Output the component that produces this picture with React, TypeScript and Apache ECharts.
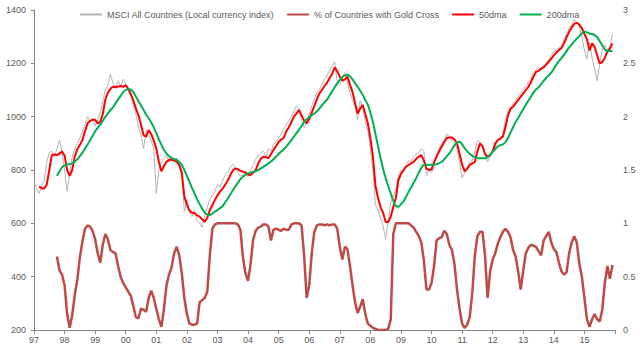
import React, { useEffect, useRef } from "react";
import * as echarts from "echarts";

// Monthly observations; x position = 1997 + monthIndex / 12
const START_YEAR = 1997;
const msciStartMonth = 0;
const dma50StartMonth = 2;
const dma200StartMonth = 9;
const goldCrossStartMonth = 9;

const yearTicks = ["97","98","99","00","01","02","03","04","05","06","07","08","09","10","11","12","13","14","15"];

const msciIndex = [
  755,730,712,740,760,830,865,870,848,880,912,865,800,720,790,850,880,900,920,945,
  970,1000,985,995,965,990,1010,1060,1100,1120,1160,1125,1110,1135,1115,1140,1120,1105,1075,1045,
  1010,960,930,880,950,930,910,880,712,800,830,845,855,830,850,835,845,810,780,645,
  690,640,625,650,610,600,585,630,660,690,705,720,745,735,760,780,790,810,822,810,
  790,778,780,795,775,800,820,840,855,865,870,850,880,870,895,905,920,935,955,970,
  985,1000,1020,1040,1030,985,960,975,1010,1040,1065,1090,1100,1120,1140,1155,1175,1190,1205,1130,
  1120,1150,1165,1130,1090,1060,1040,990,1060,1040,980,950,880,800,670,650,620,590,540,610,
  680,700,730,780,800,790,820,835,830,850,860,865,880,870,780,800,790,810,860,880,
  900,915,935,925,910,900,880,830,770,790,800,830,835,870,910,905,880,860,830,850,
  870,885,910,920,930,990,1020,1030,1050,1060,1075,1090,1100,1115,1130,1140,1165,1175,1185,1175,
  1195,1200,1215,1230,1245,1250,1260,1270,1290,1310,1330,1345,1365,1350,1340,1300,1250,1215,1280,1220,
  1180,1135,1200,1250,1270,1250,1265,1310
];

const dma50 = [
  738,732,731,745,800,856,858,856,862,869,855,800,778,800,850,878,895,912,945,975,
  984,988,988,975,980,1010,1065,1090,1105,1112,1110,1113,1115,1112,1118,1104,1085,1060,1030,1005,
  970,930,925,950,935,910,880,830,795,815,831,838,838,835,831,820,790,700,670,648,
  640,638,630,625,615,606,620,650,668,688,705,719,730,745,760,780,798,806,803,796,
  794,790,783,781,790,800,825,842,850,848,844,860,875,890,905,914,920,945,960,980,
  1000,1012,1025,1005,985,975,990,1015,1040,1065,1087,1100,1115,1127,1145,1160,1185,1170,1150,1135,
  1140,1150,1120,1092,1050,1012,1030,1044,1010,975,920,850,740,695,660,640,605,605,625,662,
  695,762,785,800,812,819,825,831,842,850,856,835,805,800,802,830,850,870,888,905,
  920,922,922,915,900,860,820,795,805,819,825,831,870,900,890,860,850,856,870,900,
  912,918,925,960,1005,1030,1037,1050,1062,1075,1087,1100,1112,1130,1150,1168,1172,1180,1185,1195,
  1206,1218,1230,1240,1250,1258,1275,1298,1318,1335,1348,1352,1345,1332,1310,1290,1248,1275,1262,1230,
  1200,1205,1220,1245,1255,1275
];

const dma200 = [
  778,795,810,817,820,823,825,832,840,852,865,880,895,912,928,945,958,970,985,1000,
  1012,1025,1035,1050,1065,1078,1092,1100,1103,1102,1092,1075,1058,1042,1025,1008,994,978,960,938,
  915,895,875,862,852,845,841,838,830,819,800,778,755,733,712,690,672,655,640,633,
  631,637,644,650,657,665,678,692,708,723,738,752,766,775,782,787,790,793,796,800,
  806,812,818,825,832,840,850,860,869,878,888,900,912,925,938,952,965,980,990,998,
  1005,1012,1020,1030,1042,1054,1064,1080,1095,1110,1125,1138,1148,1155,1157,1152,1140,1125,1112,1097,
  1082,1062,1045,1015,980,935,890,845,805,770,740,712,685,665,662,672,682,700,718,735,
  752,770,790,808,819,820,819,820,820,822,826,831,840,852,862,878,892,902,906,896,
  882,870,860,853,848,845,844,844,844,848,858,868,878,888,893,896,905,920,940,960,
  980,995,1012,1028,1045,1060,1075,1090,1102,1110,1122,1134,1145,1155,1165,1180,1195,1208,1220,1232,
  1246,1260,1270,1282,1292,1302,1312,1319,1316,1312,1310,1306,1298,1283,1268,1252,1246,1246,1247
];

const goldCrossPct = [
  0.69,0.56,0.52,0.42,0.15,0.02,0.14,0.33,0.47,0.68,0.83,0.95,0.98,0.97,0.93,0.85,0.72,0.63,0.80,0.90,
  0.85,0.75,0.73,0.72,0.60,0.50,0.44,0.40,0.36,0.32,0.22,0.12,0.11,0.20,0.19,0.17,0.30,0.37,0.30,0.20,
  0.10,0.03,0.20,0.42,0.52,0.59,0.72,0.78,0.70,0.53,0.30,0.15,0.06,0.05,0.05,0.06,0.26,0.28,0.30,0.36,
  0.70,0.95,0.99,1.0,1.0,1.0,1.0,1.0,1.0,1.0,1.0,0.99,0.94,0.68,0.53,0.46,0.62,0.85,0.93,0.96,
  0.97,0.99,0.99,0.97,0.84,0.94,0.95,0.94,0.93,0.95,0.94,0.94,0.99,1.0,1.0,1.0,0.98,0.70,0.30,0.42,
  0.72,0.92,0.98,0.99,0.99,0.98,0.99,0.98,0.99,0.99,0.95,0.78,0.66,0.78,0.76,0.60,0.42,0.26,0.16,0.22,
  0.29,0.15,0.06,0.04,0.02,0.01,0.0,0.0,0.0,0.0,0.01,0.10,0.90,1.0,1.0,1.0,1.0,1.0,1.0,0.98,
  0.96,0.92,0.88,0.82,0.65,0.38,0.38,0.44,0.60,0.84,0.86,0.87,0.93,0.90,0.80,0.75,0.62,0.38,0.20,0.06,
  0.02,0.05,0.12,0.35,0.70,0.88,0.92,0.92,0.70,0.30,0.55,0.66,0.72,0.81,0.87,0.92,0.95,0.92,0.87,0.75,
  0.69,0.55,0.38,0.56,0.72,0.77,0.80,0.79,0.78,0.74,0.70,0.84,0.88,0.92,0.82,0.76,0.73,0.63,0.55,0.52,
  0.54,0.72,0.82,0.88,0.82,0.62,0.50,0.30,0.10,0.03,0.10,0.15,0.10,0.08,0.19,0.44,0.60,0.48,0.61
];

const toPoints = (values: number[], startMonth: number) =>
  values.map((v, k) => [START_YEAR + (startMonth + k) / 12, v]);

const FONT = "Liberation Sans, Arial, sans-serif";
const TXT = "#595959";
const C_MSCI = "#B4B4B4";
const C_GOLD = "#BE4B48";
const C_50 = "#FF0000";
const C_200 = "#00B050";

export default function App() {
  const ref = useRef<HTMLDivElement>(null);
  useEffect(() => {
    if (!ref.current) return;
    const chart = echarts.init(ref.current, undefined, { renderer: "svg" });
    chart.setOption({
      animation: false,
      backgroundColor: "#ffffff",
      textStyle: { fontFamily: FONT },
      legend: {
        left: 75,
        top: 5,
        itemWidth: 22,
        itemHeight: 2,
        itemGap: 13,
        textStyle: { fontSize: 9, color: TXT, fontFamily: FONT },
        data: [
          { name: "MSCI All Countries (Local currency index)", icon: "rect", itemStyle: { color: C_MSCI } },
          { name: "% of Countries with Gold Cross", icon: "rect", itemStyle: { color: C_GOLD } },
          { name: "50dma", icon: "rect", itemStyle: { color: C_50 } },
          { name: "200dma", icon: "rect", itemStyle: { color: C_200 } },
        ],
      },
      grid: { left: 34, right: 25, top: 10, bottom: 22 },
      xAxis: {
        type: "value",
        min: 1997,
        max: 2016,
        interval: 1,
        axisLine: { show: true, lineStyle: { color: "#868686", width: 1 } },
        axisTick: { show: true, inside: false, length: 4, lineStyle: { color: "#868686" } },
        axisLabel: {
          fontSize: 9,
          color: TXT,
          margin: 5,
          fontFamily: FONT,
          formatter: (v: number) => {
            const idx = Math.round(v - START_YEAR);
            return yearTicks[idx] ?? "";
          },
        },
        splitLine: { show: false },
      },
      yAxis: [
        {
          type: "value",
          min: 200,
          max: 1400,
          interval: 200,
          position: "left",
          axisLine: { show: true, lineStyle: { color: "#868686", width: 1 } },
          axisTick: { show: true, inside: false, length: 3, lineStyle: { color: "#868686" } },
          axisLabel: {
            fontSize: 9,
            color: TXT,
            margin: 8,
            fontFamily: FONT,
            formatter: (v: number) => String(v),
          },
          splitLine: { show: false },
        },
        {
          type: "value",
          min: 0,
          max: 3,
          interval: 0.5,
          position: "right",
          axisLine: { show: false },
          axisTick: { show: false },
          axisLabel: {
            fontSize: 9,
            color: TXT,
            margin: 8,
            fontFamily: FONT,
            formatter: (v: number) => String(v),
          },
          splitLine: { show: false },
        },
      ],
      series: [
        {
          name: "MSCI All Countries (Local currency index)",
          type: "line",
          yAxisIndex: 0,
          data: toPoints(msciIndex, msciStartMonth),
          symbol: "none",
          lineStyle: { color: C_MSCI, width: 1 },
          itemStyle: { color: C_MSCI },
        },
        {
          name: "% of Countries with Gold Cross",
          type: "line",
          yAxisIndex: 1,
          data: toPoints(goldCrossPct, goldCrossStartMonth),
          symbol: "none",
          lineStyle: { color: C_GOLD, width: 2.5 },
          itemStyle: { color: C_GOLD },
        },
        {
          name: "50dma",
          type: "line",
          yAxisIndex: 0,
          data: toPoints(dma50, dma50StartMonth),
          symbol: "none",
          lineStyle: { color: C_50, width: 2 },
          itemStyle: { color: C_50 },
        },
        {
          name: "200dma",
          type: "line",
          yAxisIndex: 0,
          data: toPoints(dma200, dma200StartMonth),
          symbol: "none",
          smooth: 0.3,
          lineStyle: { color: C_200, width: 2 },
          itemStyle: { color: C_200 },
        },
      ],
    });
    return () => chart.dispose();
  }, []);
  return (
    <div
      ref={ref}
      style={{ position: "absolute", left: 0, top: 0, width: 640, height: 352 }}
    />
  );
}
